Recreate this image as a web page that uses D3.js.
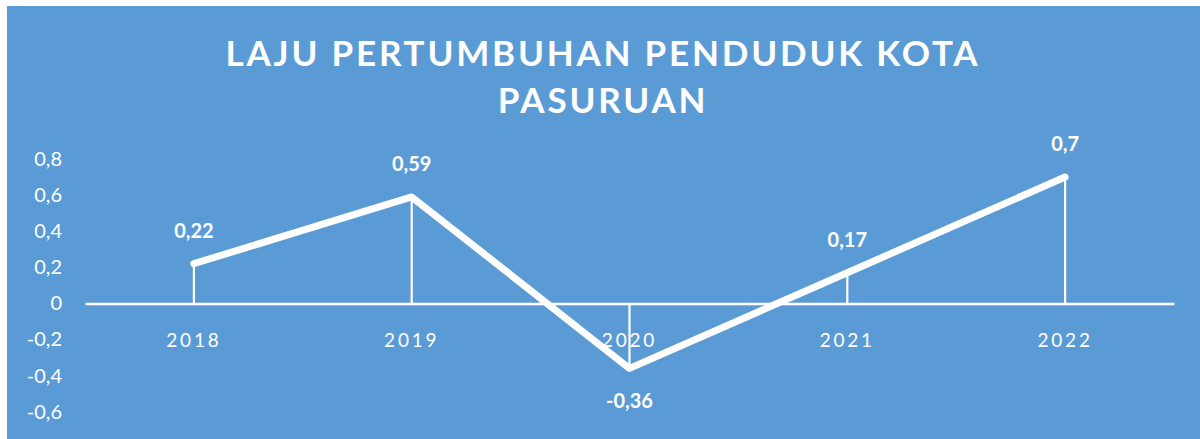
<!DOCTYPE html>
<html>
<head>
<meta charset="utf-8">
<script src="https://cdn.jsdelivr.net/npm/d3@7"></script>
<style>
  body { margin: 0; background: #fff; }
  svg text { font-family: Lato, "Open Sans", sans-serif; fill: #fff; }
</style>
</head>
<body>
<div id="chart"></div>
<script>
// data
const years = ['2018', '2019', '2020', '2021', '2022'];
const growth = [0.22, 0.59, -0.36, 0.17, 0.7];
const yTicks = [0.8, 0.6, 0.4, 0.2, 0, -0.2, -0.4, -0.6];
const titleLines = ['LAJU PERTUMBUHAN PENDUDUK KOTA', 'PASURUAN'];

const width = 1200, height = 439;
const fmt = v => String(v).replace('.', ',');

const svg = d3.select('#chart')
    .append('svg')
        .attr('width', width)
        .attr('height', height);

// chart area background
svg.append('rect')
    .attr('x', 7).attr('y', 6)
    .attr('width', width - 7).attr('height', height - 6)
    .attr('fill', '#5B9BD5');

// title
svg.selectAll('.title')
    .data(titleLines)
    .enter().append('text')
        .attr('class', 'title')
        .attr('x', 603)
        .attr('y', (d, i) => 66 + i * 47)
        .attr('text-anchor', 'middle')
        .style('font-size', '35px')
        .style('font-weight', 'bold')
        .style('letter-spacing', '2.8px')
        .text(d => d);

// scales
const x = d3.scaleBand()
    .domain(years)
    .range([85, 1174]);

const y = d3.scaleLinear()
    .domain([-0.6, 0.8])
    .range([411.7, 159]);

// y axis labels (no line)
const yAxis = svg.append('g')
    .attr('transform', 'translate(62,0)')
    .call(d3.axisLeft(y).tickValues(yTicks).tickSize(0).tickPadding(0).tickFormat(fmt));
yAxis.select('.domain').remove();
yAxis.selectAll('text')
    .style('font-size', '20px')
    .attr('fill', '#fff')
    .style('font-family', 'Lato, "Open Sans", sans-serif');

// x axis at zero
const xAxis = svg.append('g')
    .attr('transform', 'translate(0,' + y(0) + ')')
    .call(d3.axisBottom(x).tickSize(0).tickPadding(30));
xAxis.select('.domain')
    .attr('stroke', '#fff')
    .attr('stroke-width', 2.5);
xAxis.selectAll('text')
    .style('font-size', '19px')
    .style('letter-spacing', '2.8px')
    .attr('fill', '#fff')
    .style('font-family', 'Lato, "Open Sans", sans-serif');

const cx = d => x(d) + x.bandwidth() / 2;

// drop lines
svg.append('g')
    .selectAll('line')
    .data(years)
    .enter().append('line')
        .attr('x1', d => cx(d))
        .attr('x2', d => cx(d))
        .attr('y1', y(0))
        .attr('y2', (d, i) => y(growth[i]))
        .attr('stroke', '#fff')
        .attr('stroke-width', 2.2);

// series line
const line = d3.line()
    .x((d, i) => cx(years[i]))
    .y(d => y(d));

svg.append('path')
    .datum(growth)
    .attr('d', line)
    .attr('fill', 'none')
    .attr('stroke', '#fff')
    .attr('stroke-width', 7)
    .attr('stroke-linejoin', 'round')
    .attr('stroke-linecap', 'round');

// data labels
svg.append('g')
    .selectAll('text')
    .data(growth)
    .enter().append('text')
        .attr('x', (d, i) => cx(years[i]))
        .attr('y', d => d < 0 ? y(d) + 40 : y(d) - 26)
        .attr('text-anchor', 'middle')
        .style('font-size', '20px')
        .style('font-weight', 'bold')
        .text(d => fmt(d));
</script>
</body>
</html>
